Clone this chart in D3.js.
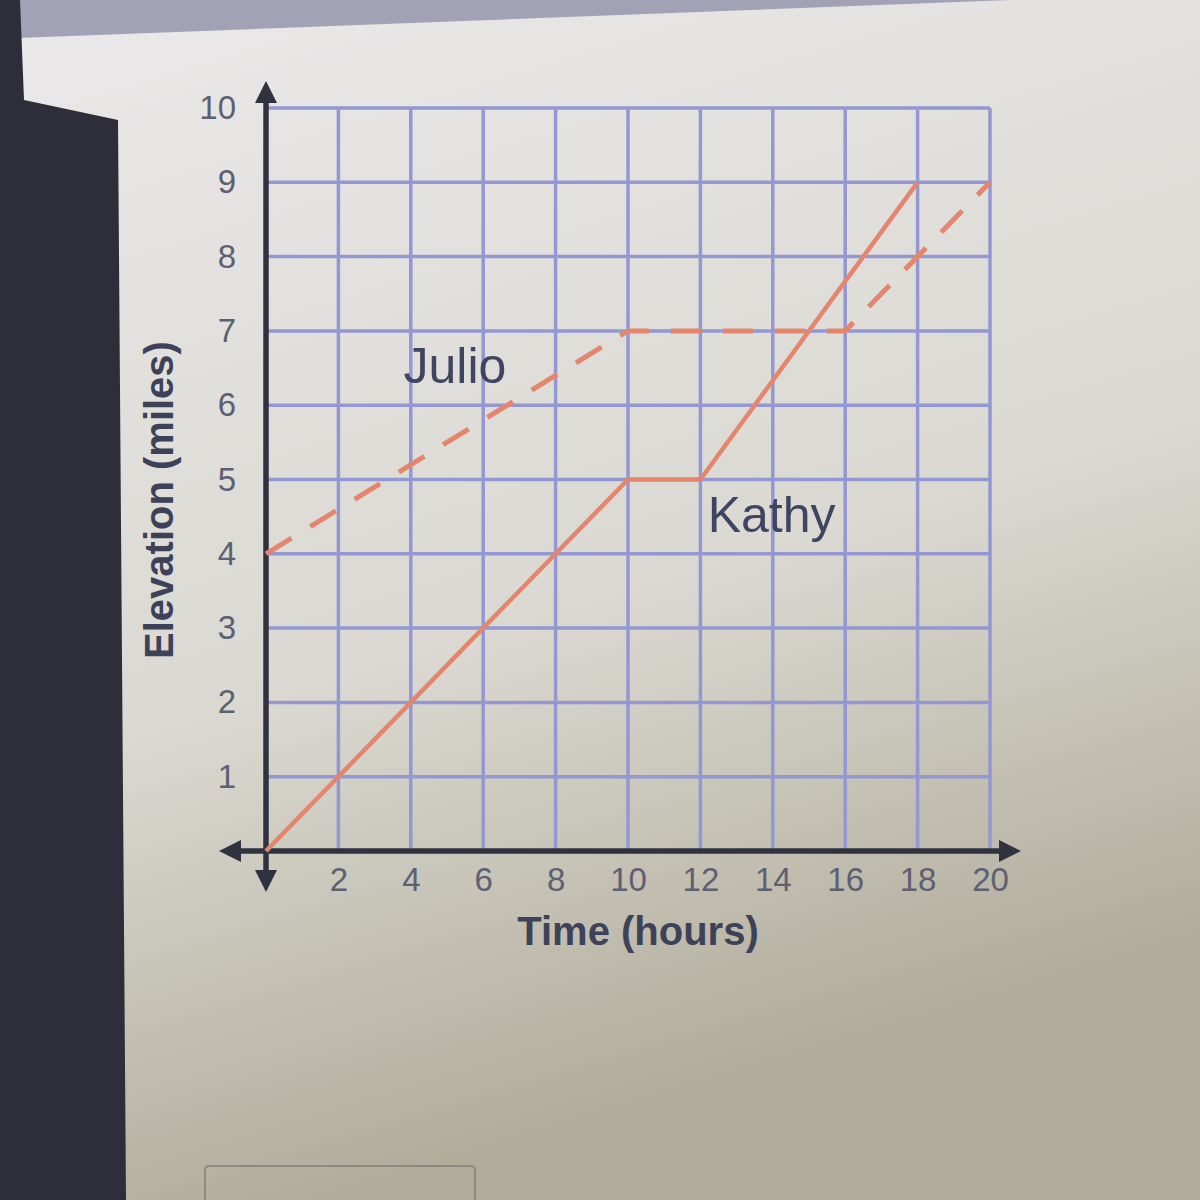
<!DOCTYPE html>
<html>
<head>
<meta charset="utf-8">
<script src="https://cdn.jsdelivr.net/npm/d3@7"></script>
<style>
  body { margin: 0; background: #d6d4cc; }
  svg { display: block; }
</style>
</head>
<body>
<svg width="1200" height="1200"></svg>
<script>
// data
var kathyTime = [0, 10, 12, 18];
var kathyElev = [0, 5, 5, 9];
var julioTime = [0, 10, 16, 20];
var julioElev = [4, 7, 7, 9];
var xTicks = [2, 4, 6, 8, 10, 12, 14, 16, 18, 20];
var yTicks = [1, 2, 3, 4, 5, 6, 7, 8, 9, 10];
var seriesNames = ["Julio", "Kathy"];

var svg = d3.select("svg");
var defs = svg.append("defs");

var bg = defs.append("linearGradient").attr("id", "bg")
    .attr("x1", 0).attr("y1", 0).attr("x2", 0.3).attr("y2", 1);
bg.append("stop").attr("offset", "0").attr("stop-color", "#ebe9ea");
bg.append("stop").attr("offset", "0.6").attr("stop-color", "#dad8d1");
bg.append("stop").attr("offset", "1").attr("stop-color", "#b0ac9a");

svg.append("rect").attr("width", 1200).attr("height", 1200).attr("fill", "url(#bg)");
// top bar of the screen
svg.append("path").attr("d", "M0,0 L1010,0 L18,38 L0,38 Z").attr("fill", "#a2a2b6");
// dark bezel on the left
svg.append("path").attr("d", "M0,0 L20,0 L24,100 L118,120 L126,1200 L0,1200 Z").attr("fill", "#2e2d3a");
// button outline at the bottom
svg.append("rect").attr("x", 205).attr("y", 1166).attr("width", 270).attr("height", 60)
    .attr("fill", "none").attr("stroke", "#8d8a80").attr("stroke-width", 2).attr("rx", 4);

var x = d3.scaleLinear().domain([0, 20]).range([266, 990]);
var y = d3.scaleLinear().domain([0, 10]).range([851, 108]);

var g = svg.append("g");

// grid
var gridColor = "#9397d2";
g.append("g").selectAll("line").data(xTicks).enter().append("line")
    .attr("x1", function (d) { return x(d); })
    .attr("x2", function (d) { return x(d); })
    .attr("y1", y(0)).attr("y2", y(10))
    .attr("stroke", gridColor).attr("stroke-width", 3.5);
g.append("g").selectAll("line").data(yTicks).enter().append("line")
    .attr("x1", x(0)).attr("x2", x(20))
    .attr("y1", function (d) { return y(d); })
    .attr("y2", function (d) { return y(d); })
    .attr("stroke", gridColor).attr("stroke-width", 3.5);

// tick labels
var xAxis = g.append("g")
    .attr("transform", "translate(0," + y(0) + ")")
    .call(d3.axisBottom(x).tickValues(xTicks).tickSize(0).tickPadding(10));
var yAxis = g.append("g")
    .attr("transform", "translate(" + x(0) + ",0)")
    .call(d3.axisLeft(y).tickValues(yTicks).tickSize(0).tickPadding(30));
[xAxis, yAxis].forEach(function (a) {
    a.select(".domain").remove();
    a.selectAll("text")
        .attr("font-family", "Liberation Sans, Arial, sans-serif")
        .attr("font-size", 33)
        .attr("fill", "#5d6072");
});
xAxis.selectAll("text").attr("dy", "0.9em");

// axes with arrows
var axisColor = "#30323f";
defs.append("marker").attr("id", "arrow")
    .attr("viewBox", "0 0 10 10").attr("refX", 5).attr("refY", 5)
    .attr("markerWidth", 4).attr("markerHeight", 4)
    .attr("orient", "auto-start-reverse")
    .append("path").attr("d", "M0,0 L10,5 L0,10 Z").attr("fill", axisColor);

g.append("line")
    .attr("x1", x(0) - 36).attr("x2", x(20) + 20)
    .attr("y1", y(0)).attr("y2", y(0))
    .attr("stroke", axisColor).attr("stroke-width", 5.5)
    .attr("marker-start", "url(#arrow)").attr("marker-end", "url(#arrow)");
g.append("line")
    .attr("x1", x(0)).attr("x2", x(0))
    .attr("y1", y(0) + 30).attr("y2", y(10) - 16)
    .attr("stroke", axisColor).attr("stroke-width", 5.5)
    .attr("marker-start", "url(#arrow)").attr("marker-end", "url(#arrow)");

// series
var line = d3.line()
    .x(function (d) { return x(d[0]); })
    .y(function (d) { return y(d[1]); });

var lineColor = "#e3866d";
g.append("path")
    .datum(d3.zip(julioTime, julioElev))
    .attr("fill", "none")
    .attr("stroke", lineColor)
    .attr("stroke-width", 5)
    .attr("stroke-dasharray", "30,22")
    .attr("d", line);

g.append("path")
    .datum(d3.zip(kathyTime, kathyElev))
    .attr("fill", "none")
    .attr("stroke", lineColor)
    .attr("stroke-width", 4.5)
    .attr("stroke-linejoin", "round")
    .attr("d", line);

// series labels
var labelFont = "Liberation Sans, Arial, sans-serif";
g.append("text").attr("x", x(3.8)).attr("y", y(6.3))
    .attr("font-family", labelFont).attr("font-size", 50).attr("fill", "#3f4460")
    .text(seriesNames[0]);
g.append("text").attr("x", x(12.2)).attr("y", y(4.3))
    .attr("font-family", labelFont).attr("font-size", 50).attr("fill", "#3f4460")
    .text(seriesNames[1]);

// axis titles
g.append("text")
    .attr("x", 638).attr("y", 945)
    .attr("text-anchor", "middle")
    .attr("font-family", labelFont).attr("font-weight", "bold")
    .attr("font-size", 40).attr("fill", "#3d4259")
    .text("Time  (hours)");
g.append("text")
    .attr("transform", "translate(173,500) rotate(-90)")
    .attr("text-anchor", "middle")
    .attr("font-family", labelFont).attr("font-weight", "bold")
    .attr("font-size", 40).attr("fill", "#3d4259")
    .text("Elevation  (miles)");
</script>
</body>
</html>
